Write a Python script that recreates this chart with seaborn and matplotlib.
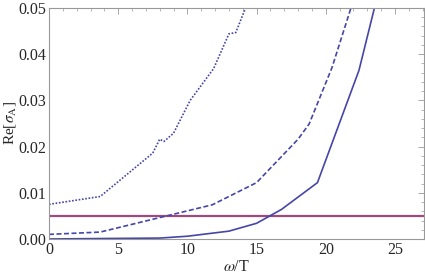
import seaborn as sns
import matplotlib.pyplot as plt
import matplotlib.ticker as mticker
import pandas as pd
import numpy as np

# omega/T and Re[sigma_A]
w_solid = [0, 3.7, 8.0, 10.0, 13.0, 15.0, 16.8, 19.4, 22.4, 23.6]
re_solid = [0.0, 0.0001, 0.0002, 0.0006, 0.0017, 0.0034, 0.0064, 0.0122, 0.0365, 0.051]

w_dashed = [0, 3.7, 8.5, 11.8, 15.0, 18.0, 18.8, 20.45, 22.0]
re_dashed = [0.001, 0.0015, 0.005, 0.0074, 0.0122, 0.0216, 0.0249, 0.0371, 0.0517]

w_dotted = [0, 3.7, 7.5, 8.0, 8.3, 9.0, 10.2, 11.9, 13.0, 13.5, 14.4]
re_dotted = [0.0075, 0.0092, 0.0186, 0.0216, 0.0211, 0.0229, 0.030, 0.0369, 0.0444, 0.0447, 0.0515]

threshold = 0.0049

blue = '#4646a8'
sns.set_style('white')
plt.rcParams['font.family'] = ['Liberation Serif', 'DejaVu Serif']
plt.rcParams['mathtext.fontset'] = 'stix'

fig = plt.figure(figsize=(4.25, 2.78), dpi=100)
ax = fig.add_axes([49 / 425, 1 - 239 / 278, 375 / 425, 231 / 278])

ax.axhline(threshold, color='#9e4a7e', lw=1.6)
sns.lineplot(x=w_solid, y=re_solid, ax=ax, color=blue, lw=1.2, sort=False)
sns.lineplot(x=w_dashed, y=re_dashed, ax=ax, color=blue, lw=1.2, sort=False,
             linestyle=(0, (3, 1.5)))
sns.lineplot(x=w_dotted, y=re_dotted, ax=ax, color=blue, lw=1.2, sort=False,
             linestyle=(0, (1, 1)))

ax.set_xlim(0, 27.1)
ax.set_ylim(0, 0.05)
ax.xaxis.set_major_locator(mticker.MultipleLocator(5))
ax.xaxis.set_minor_locator(mticker.MultipleLocator(1))
ax.yaxis.set_major_locator(mticker.MultipleLocator(0.01))
ax.yaxis.set_minor_locator(mticker.MultipleLocator(0.002))
ax.yaxis.set_major_formatter(mticker.FormatStrFormatter('%.2f'))
ax.tick_params(which='both', direction='in', top=True, right=True,
               color='#999999', labelsize=11.5, pad=2)
ax.tick_params(which='major', length=4.5, width=0.6)
ax.tick_params(which='minor', length=2.5, width=0.5)
for s in ax.spines.values():
    s.set_color('#999999')
    s.set_linewidth(0.8)

ax.set_xlabel(r'$\omega$/T', fontsize=11.5, labelpad=1)
ax.set_ylabel(r'Re[$\sigma_{\rm A}$]', fontsize=11, labelpad=0)

plt.savefig('out.png', dpi=100)
